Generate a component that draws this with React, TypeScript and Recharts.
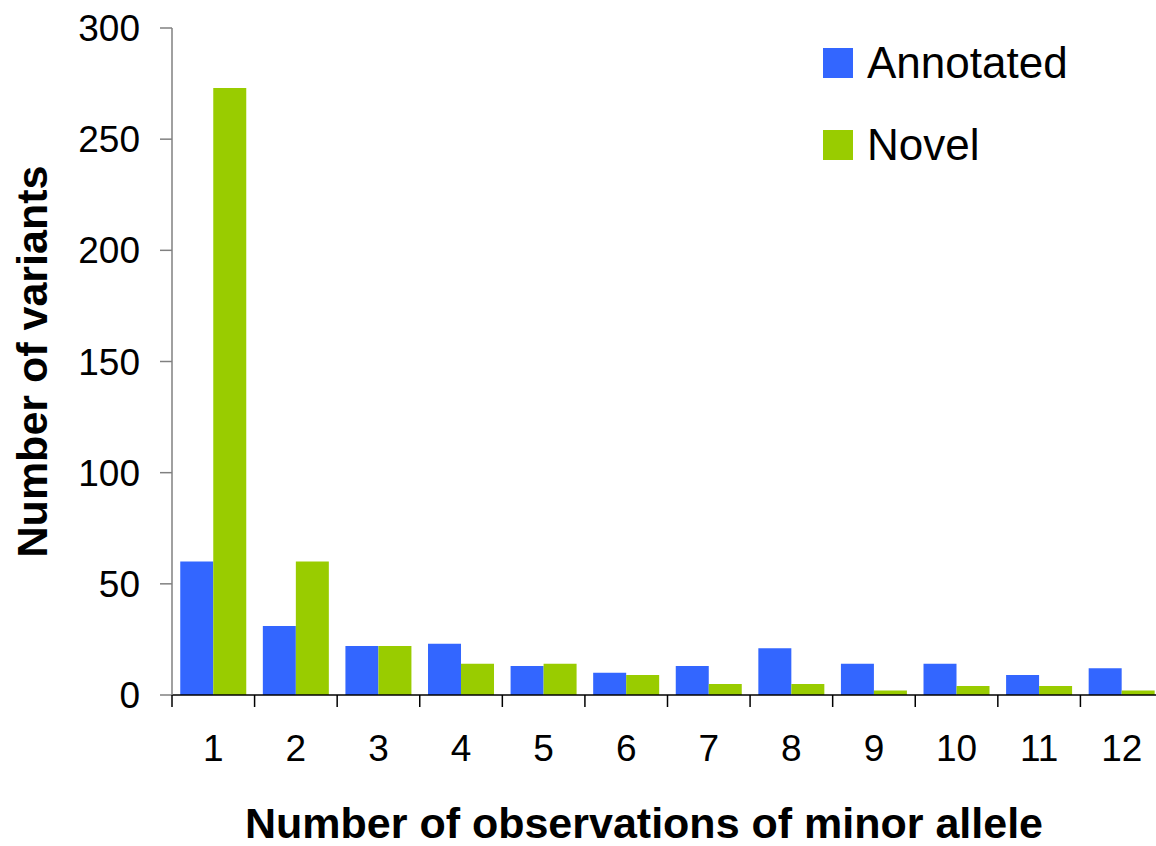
import { Bar, BarChart, Legend, XAxis, YAxis } from "recharts";

const categories = ["1", "2", "3", "4", "5", "6", "7", "8", "9", "10", "11", "12"];
const annotated = [60, 31, 22, 23, 13, 10, 13, 21, 14, 14, 9, 12];
const novel = [273, 60, 22, 14, 14, 9, 5, 5, 2, 4, 4, 2];
const yTicks = [0, 50, 100, 150, 200, 250, 300];

const seriesInfo = [
  { key: "annotated", name: "Annotated", color: "#3366ff" },
  { key: "novel", name: "Novel", color: "#99cc00" },
];

const data = categories.map((c, i) => ({
  name: c,
  annotated: annotated[i],
  novel: novel[i],
}));

const FONT = "'Liberation Sans', Arial, sans-serif";
const W = 1170;
const H = 846;
const M = { top: 28, right: 7, left: 0, bottom: 0 };
const Y_W = 172;
const X_H = 151;
const band = (W - M.left - M.right - Y_W) / categories.length;

// Excel-style ticks sit on category boundaries, label at the centre
function XTick(props: any) {
  const { x, y, payload } = props;
  return (
    <g>
      <line x1={x - band / 2} x2={x - band / 2} y1={y} y2={y + 12} stroke="#000" strokeWidth={1.5} />
      <text x={x} y={y + 40} dy="0.71em" textAnchor="middle" fontSize={37} fill="#000" fontFamily={FONT}>
        {payload.value}
      </text>
    </g>
  );
}

function YTitle(props: any) {
  const vb = props.viewBox || {};
  const cy = (vb.y ?? 0) + (vb.height ?? 0) / 2;
  const cx = 47;
  return (
    <text
      x={cx}
      y={cy}
      transform={`rotate(-90 ${cx} ${cy})`}
      textAnchor="middle"
      fontSize={43}
      fontWeight="bold"
      fill="#000"
      fontFamily={FONT}
    >
      Number of variants
    </text>
  );
}

function XTitle() {
  return (
    <text x={644} y={838} textAnchor="middle" fontSize={43} fontWeight="bold" fill="#000" fontFamily={FONT}>
      Number of observations of minor allele
    </text>
  );
}

function LegendBox() {
  return (
    <div style={{ fontFamily: FONT }}>
      {seriesInfo.map((s, i) => (
        <div
          key={s.key}
          style={{ display: "flex", alignItems: "center", height: 30, marginBottom: i === 0 ? 52 : 0 }}
        >
          <div style={{ width: 30, height: 30, background: s.color }} />
          <span style={{ marginLeft: 14, fontSize: 44, lineHeight: "30px", color: "#000" }}>{s.name}</span>
        </div>
      ))}
    </div>
  );
}

export default function App() {
  return (
    <div
      style={{
        position: "absolute",
        left: 0,
        top: 0,
        width: 1156,
        height: 846,
        overflow: "hidden",
        background: "#fff",
      }}
    >
      <BarChart
        width={W}
        height={H}
        data={data}
        margin={M}
        barCategoryGap="10%"
        barGap={0}
      >
        <XAxis
          dataKey="name"
          height={X_H}
          interval={0}
          tickSize={0}
          tickMargin={0}
          tickLine={false}
          tick={<XTick />}
          stroke="#000"
          strokeWidth={1.5}
          label={<XTitle />}
        />
        <YAxis
          width={Y_W}
          domain={[0, 300]}
          ticks={yTicks}
          interval={0}
          tickSize={12}
          tickMargin={20}
          stroke="#808080"
          strokeWidth={1.5}
          tick={{ fill: "#000", fontSize: 37, fontFamily: FONT }}
          label={<YTitle />}
        />
        <Legend
          layout="vertical"
          align="center"
          verticalAlign="middle"
          wrapperStyle={{ top: 48, left: 823, width: 320 }}
          content={<LegendBox />}
        />
        {seriesInfo.map((s) => (
          <Bar key={s.key} dataKey={s.key} name={s.name} fill={s.color} isAnimationActive={false} />
        ))}
      </BarChart>
    </div>
  );
}
